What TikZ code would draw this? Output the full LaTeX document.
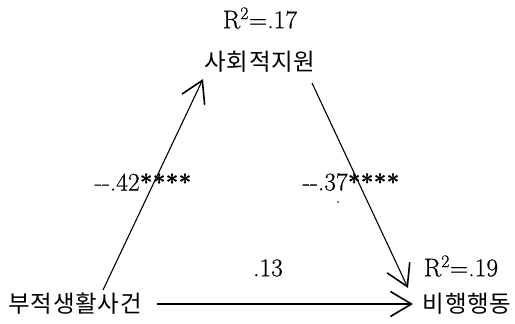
\documentclass[tikz,border=0pt]{standalone}
\usepackage{fontspec}
\newfontfamily\kr[LetterSpace=3]{Noto Sans CJK KR}
\newfontfamily\numf[FakeBold=0.6]{Latin Modern Roman}
\usetikzlibrary{arrows.meta}
\begin{document}
\begin{tikzpicture}[x=1pt,y=-1pt,
  lbl/.style={font=\numf\fontsize{25.5}{26}\selectfont, inner sep=0},
  stars/.style={font=\bfseries\fontsize{23}{24}\selectfont},
  kor/.style={font=\kr\fontsize{23.5}{24}\selectfont, inner sep=0},
  arr/.style={line width=1.1pt, -{Straight Barb[length=21pt,width=25pt,line width=1.6pt]}}]
\useasboundingbox (0,0) rectangle (515,324);
\node[lbl] (r1) at (260,18) {R\textsuperscript{2}=.17};
\node[kor] (soc) at (260,62) {사회적지원};
\node[kor] (neg) at (75,304) {부적생활사건};
\node[kor] (del) at (467,304) {비행행동};
\node[lbl] (r2) at (461,266) {R\textsuperscript{2}=.19};
\node[lbl] (c1) at (143,182) {--.42{\bfseries\fontsize{23}{24}\selectfont ****}};
\node[lbl] (c2) at (351,182) {--.37{\bfseries\fontsize{23}{24}\selectfont ****}};
\node[lbl] (c3) at (268,268) {.13};
\coordinate (a1s) at (103,290);
\coordinate (a1e) at (203,79);
\coordinate (a2s) at (312,83);
\coordinate (a2e) at (408,288);
\coordinate (a3s) at (157,304);
\coordinate (a3e) at (413,304);
\draw[arr] (a1s) -- (a1e);
\draw[arr] (a2s) -- (a2e);
\draw[arr] (a3s) -- (a3e);
\fill (338,202) circle (0.8pt);
\end{tikzpicture}
\end{document}
